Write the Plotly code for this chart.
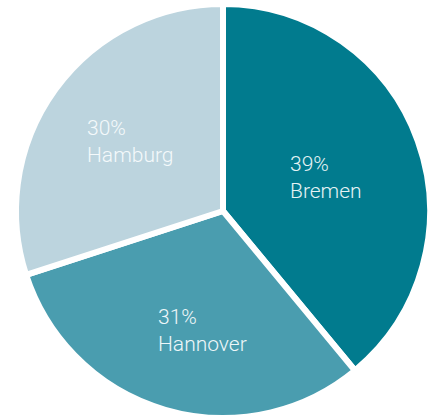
import math
import plotly.graph_objects as go

cities = ["Bremen", "Hannover", "Hamburg"]
shares = [39, 31, 30]
colors = ["#017b8e", "#4a9daf", "#bcd4de"]
text_colors = ["#e6f3f5", "#eef7f9", "#f4f9fb"]

fig = go.Figure(go.Pie(
    labels=cities,
    values=shares,
    sort=False,
    direction="clockwise",
    rotation=0,
    marker=dict(colors=colors, line=dict(color="white", width=6)),
    textinfo="none",
    hoverinfo="label+percent",
    showlegend=False,
    domain=dict(x=[0, 1], y=[0, 1]),
))

W, H = 438, 418
ml, mr, mt, mb = 8, 0, 4, 0
pw, ph = W - ml - mr, H - mt - mb
R = min(pw, ph) / 2
rf = 0.545
# small pixel nudges for label placement (style only)
nudges = [(-3.5, 4.5), (11, 11), (-1.5, -3.5)]

total = sum(shares)
cum = 0
annotations = []
for city, v, tc, (nx, ny) in zip(cities, shares, text_colors, nudges):
    mid = (cum + v / 2) / total * 2 * math.pi
    cum += v
    dx = rf * R * math.sin(mid) + nx
    dy = rf * R * math.cos(mid) - ny
    annotations.append(dict(
        x=0.5 + dx / pw, y=0.5 + dy / ph, xref="paper", yref="paper",
        text=f"{v}%<br>{city}", showarrow=False, align="left",
        xanchor="center", yanchor="middle",
        font=dict(family="Roboto", size=21, color=tc, weight=300),
    ))

fig.update_layout(
    width=W, height=H,
    margin=dict(l=ml, r=mr, t=mt, b=mb),
    paper_bgcolor="white",
    plot_bgcolor="white",
    annotations=annotations,
)
fig.write_html("out.html")
